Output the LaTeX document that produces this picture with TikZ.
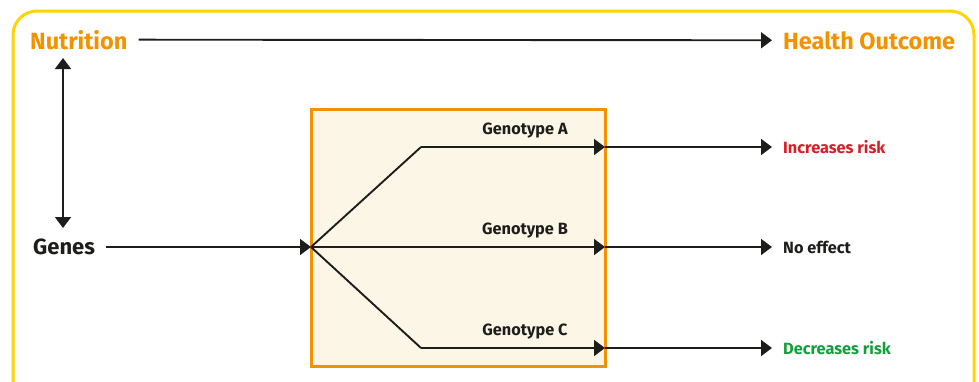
\documentclass[tikz,border=0pt]{standalone}
\usepackage{fontspec}
\setmainfont{Fira Sans}
\usetikzlibrary{arrows.meta,positioning}
\definecolor{frameyellow}{HTML}{FFD400}
\definecolor{headorange}{HTML}{F39200}
\definecolor{boxfill}{HTML}{FCF6E6}
\definecolor{ink}{HTML}{1D1D1B}
\definecolor{riskred}{HTML}{D51F26}
\definecolor{riskgreen}{HTML}{13A03C}
\tikzset{
    tip/.tip={Triangle[length=11pt,width=16pt]},
    flow/.style={draw=ink, line width=1.9pt, -tip},
    branch/.style={draw=ink, line width=1.9pt},
    headlbl/.style={font=\fontsize{23.5}{26}\selectfont\bfseries, text=headorange, inner sep=0pt},
    genelbl/.style={font=\fontsize{22}{24}\selectfont\bfseries, text=ink, inner sep=0pt},
    typelbl/.style={font=\fontsize{16.3}{18}\selectfont\bfseries, text=ink, inner sep=0pt},
    effectlbl/.style={font=\fontsize{16.3}{18}\selectfont\bfseries, inner sep=0pt},
    genobox/.style={draw=headorange, fill=boxfill, line width=3pt}
}
\begin{document}
\begin{tikzpicture}[x=1pt,y=-1pt]
    \useasboundingbox (0,0) rectangle (979,381);
    % outer frame, runs on below the page
    \begin{scope}
        \clip (0,0) rectangle (979,381);
        \draw[frameyellow, line width=3pt, rounded corners=24pt] (13,11) rectangle (974,430);
    \end{scope}
    % genotype box
    \node[genobox, minimum width=294pt, minimum height=257pt] (box) at (458,237.5) {};
    % top row
    \node[headlbl, anchor=base west] (nutr) at (30,49) {Nutrition};
    \node[headlbl, anchor=base west] (health) at (783,49) {Health Outcome};
    \draw[flow, shorten <=11pt, shorten >=11pt] (nutr.east) -- (health.west);
    % genes
    \node[genelbl, anchor=west] (genes) at (33,247) {Genes};
    \coordinate (ntop) at (63,58);
    \coordinate (nbot) at (63,228);
    \draw[flow, tip-tip] (ntop) -- (nbot);
    \coordinate (fork) at (311,247);
    \draw[flow, shorten <=11pt] (genes.east) -- (fork);
    % branches
    \coordinate (bendA) at (421,147);
    \coordinate (bendC) at (421,348);
    \coordinate (tipA) at (605,147);
    \coordinate (tipB) at (605,247);
    \coordinate (tipC) at (605,348);
    \draw[branch] (fork) -- (bendA);
    \draw[branch] (fork) -- (bendC);
    \draw[flow] (bendA) -- (tipA);
    \draw[flow] (fork) -- (tipB);
    \draw[flow] (bendC) -- (tipC);
    \node[typelbl] (typeA) at (525,131) {Genotype A};
    \node[typelbl] (typeB) at (525,231) {Genotype B};
    \node[typelbl] (typeC) at (525,332) {Genotype C};
    % effects
    \node[effectlbl, text=riskred, anchor=west] (incr) at (783,147) {Increases risk};
    \node[effectlbl, text=ink, anchor=west] (none) at (783,247) {No effect};
    \node[effectlbl, text=riskgreen, anchor=west] (decr) at (783,348) {Decreases risk};
    \draw[flow, shorten >=11pt] (tipA) -- (incr.west);
    \draw[flow, shorten >=11pt] (tipB) -- (none.west);
    \draw[flow, shorten >=11pt] (tipC) -- (decr.west);
\end{tikzpicture}
\end{document}
